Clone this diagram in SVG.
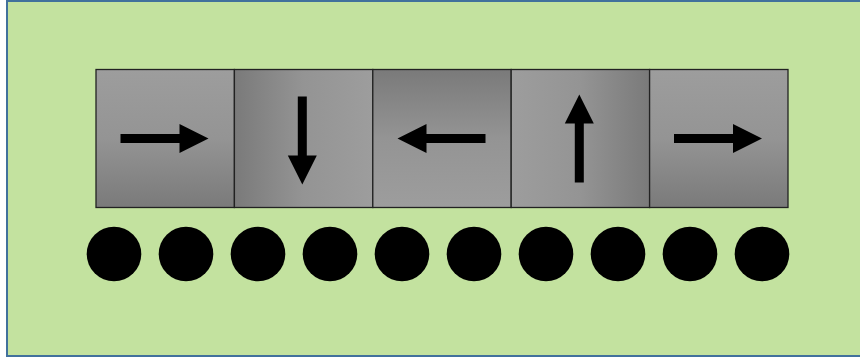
<svg xmlns="http://www.w3.org/2000/svg" width="860" height="360" viewBox="0 0 860 360">
<defs>
<linearGradient id="gV" x1="0" y1="0" x2="0" y2="1"><stop offset="0" stop-color="#9d9d9d"/><stop offset="0.5" stop-color="#949494"/><stop offset="1" stop-color="#7a7a7a"/></linearGradient>
<linearGradient id="gVr" x1="0" y1="0" x2="0" y2="1"><stop offset="0" stop-color="#7a7a7a"/><stop offset="0.5" stop-color="#949494"/><stop offset="1" stop-color="#9d9d9d"/></linearGradient>
<linearGradient id="gH" x1="0" y1="0" x2="1" y2="0"><stop offset="0" stop-color="#7a7a7a"/><stop offset="0.5" stop-color="#949494"/><stop offset="1" stop-color="#9d9d9d"/></linearGradient>
<linearGradient id="gHr" x1="0" y1="0" x2="1" y2="0"><stop offset="0" stop-color="#9d9d9d"/><stop offset="0.5" stop-color="#949494"/><stop offset="1" stop-color="#7a7a7a"/></linearGradient>
<polygon id="arR" points="-44,-4.5 15,-4.5 15,-14.5 44,0 15,14.5 15,4.5 -44,4.5"/>
</defs>
<style>
.box{stroke:#222;stroke-width:1.3}
.dot{fill:#000}
.ar{fill:#000}
</style>
<rect x="7" y="1" width="870" height="355" fill="#c3e29f" stroke="#41719c" stroke-width="2"/>
<g id="box1"><rect class="box" x="96" y="69.5" width="138.4" height="138" fill="url(#gV)"/><use href="#arR" class="ar" transform="translate(164.5,138.5)"/></g>
<g id="box2"><rect class="box" x="234.4" y="69.5" width="138.4" height="138" fill="url(#gH)"/><use href="#arR" class="ar" transform="translate(302.3,140.5) rotate(90)"/></g>
<g id="box3"><rect class="box" x="372.8" y="69.5" width="138.4" height="138" fill="url(#gVr)"/><use href="#arR" class="ar" transform="translate(441.5,138.5) rotate(180)"/></g>
<g id="box4"><rect class="box" x="511.2" y="69.5" width="138.4" height="138" fill="url(#gHr)"/><use href="#arR" class="ar" transform="translate(579.3,138.5) rotate(-90)"/></g>
<g id="box5"><rect class="box" x="649.6" y="69.5" width="138.4" height="138" fill="url(#gV)"/><use href="#arR" class="ar" transform="translate(718,138.5)"/></g>
<g id="dots">
<circle class="dot" cx="114" cy="254" r="27.3"/>
<circle class="dot" cx="186" cy="254" r="27.3"/>
<circle class="dot" cx="258" cy="254" r="27.3"/>
<circle class="dot" cx="330" cy="254" r="27.3"/>
<circle class="dot" cx="402" cy="254" r="27.3"/>
<circle class="dot" cx="474" cy="254" r="27.3"/>
<circle class="dot" cx="546" cy="254" r="27.3"/>
<circle class="dot" cx="618" cy="254" r="27.3"/>
<circle class="dot" cx="690" cy="254" r="27.3"/>
<circle class="dot" cx="762" cy="254" r="27.3"/>
</g>
<g id="connectors"/>
</svg>
